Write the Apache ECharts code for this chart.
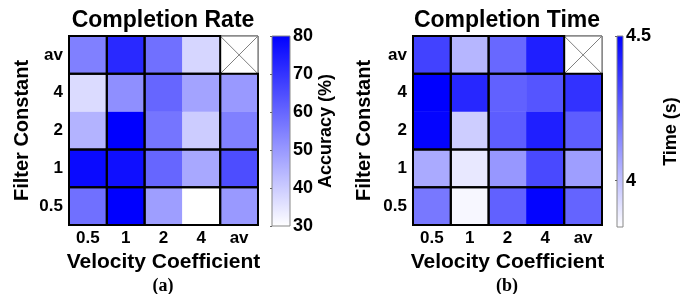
<!DOCTYPE html>
<html><head><meta charset="utf-8">
<script src="https://cdn.jsdelivr.net/npm/echarts@6/dist/echarts.min.js"></script>
<style>html,body{margin:0;padding:0;background:#fff}#c{width:681px;height:294px}</style>
</head><body><div id="c"></div>
<script>
// Categories
var xCats = ['0.5', '1', '2', '4', 'av'];           // Velocity Coefficient
var yCats = ['0.5', '1', '2', '4', 'av'];           // Filter Constant (bottom -> top)
// Completion Rate (Accuracy %), rows listed bottom->top, columns 0.5,1,2,4,av
var rateRow05 = [58, 80, 49, 30, 50];
var rateRow1  = [78, 77, 60, 47, 65];
var rateRow2  = [45, 80, 57, 40, 55];
var rateRow4  = [37, 52, 60, 48, 50];
var rateRowAv = [55, 72, 58, 38, null];
// Completion Time (s)
var timeRow05 = [4.19, 3.86, 4.25, 4.49, 4.24];
var timeRow1  = [4.06, 3.90, 4.11, 4.31, 4.09];
var timeRow2  = [4.49, 3.97, 4.26, 4.42, 4.26];
var timeRow4  = [4.50, 4.40, 4.25, 4.28, 4.37];
var timeRowAv = [4.33, 4.03, 4.23, 4.42, null];
// Colorbar ranges / ticks
var rateRange = [30, 80];
var timeRange = [3.84, 4.5];
var timeTicks = [4, 4.5];
// Block groupings (category index ranges)
var groups = [[0, 0], [1, 1], [2, 3], [4, 4]];

function toHeat(rows) {
  var out = [];
  rows.forEach(function (row, yi) {
    row.forEach(function (v, xi) { if (v !== null) out.push([xi, yi, v]); });
  });
  return out;
}
var rateData = toHeat([rateRow05, rateRow1, rateRow2, rateRow4, rateRowAv]);
var timeData = toHeat([timeRow05, timeRow1, timeRow2, timeRow4, timeRowAv]);

var blocks = [];
groups.forEach(function (gx) { groups.forEach(function (gy) {
  if (!(gx[0] === 4 && gy[0] === 4)) blocks.push([gx[0], gy[0], gx[1], gy[1]]);
}); });

function blockRender(params, api) {
  var x0 = api.value(0), y0 = api.value(1), x1 = api.value(2), y1 = api.value(3);
  var s = api.size([1, 1]);
  var a = api.coord([x0, y1]), b = api.coord([x1, y0]);
  var left = a[0] - s[0] / 2, top = a[1] - s[1] / 2;
  var right = b[0] + s[0] / 2, bottom = b[1] + s[1] / 2;
  return { type: 'rect', shape: { x: left, y: top, width: right - left, height: bottom - top },
    style: { fill: null, stroke: '#000', lineWidth: 2 } };
}
function crossRender(params, api) {
  var s = api.size([1, 1]);
  var c = api.coord([api.value(0), api.value(1)]);
  var l = c[0] - s[0] / 2, t = c[1] - s[1] / 2, r = c[0] + s[0] / 2, b = c[1] + s[1] / 2;
  return { type: 'group', children: [
    { type: 'rect', shape: { x: l, y: t, width: r - l, height: b - t }, style: { fill: '#fff', stroke: '#555', lineWidth: 1 } },
    { type: 'line', shape: { x1: l, y1: t, x2: r, y2: b }, style: { stroke: '#808080', lineWidth: 1 } },
    { type: 'line', shape: { x1: l, y1: b, x2: r, y2: t }, style: { stroke: '#808080', lineWidth: 1 } }
  ]};
}

var F = 'Liberation Sans, Arial, sans-serif';
var lbl = { fontFamily: F, fontWeight: 'bold', fontSize: 17, color: '#000' };
var grad = { type: 'linear', x: 0, y: 0, x2: 0, y2: 1,
  colorStops: [{ offset: 0, color: '#0000ff' }, { offset: 1, color: '#ffffff' }] };

function heatX(gi) {
  return { type: 'category', data: xCats, gridIndex: gi,
    name: 'Velocity Coefficient', nameLocation: 'middle', nameGap: 24,
    nameTextStyle: { fontFamily: F, fontWeight: 'bold', fontSize: 21, color: '#000' },
    axisLine: { show: false }, axisTick: { show: false },
    axisLabel: Object.assign({ margin: 5 }, lbl), splitLine: { show: false } };
}
function heatY(gi, gap) {
  return { type: 'category', data: yCats, gridIndex: gi,
    name: 'Filter Constant', nameLocation: 'middle', nameGap: gap, nameRotate: 90,
    nameTextStyle: { fontFamily: F, fontWeight: 'bold', fontSize: 20, color: '#000' },
    axisLine: { show: false }, axisTick: { show: false },
    axisLabel: Object.assign({ margin: 6 }, lbl), splitLine: { show: false } };
}

var option = {
  animation: false,
  backgroundColor: '#fff',
  title: [
    { text: 'Completion Rate', left: 163, top: 9, padding: 0, textAlign: 'center',
      textStyle: { fontFamily: F, fontWeight: 'bold', fontSize: 23, color: '#000' } },
    { text: 'Completion Time', left: 507, top: 9, padding: 0, textAlign: 'center',
      textStyle: { fontFamily: F, fontWeight: 'bold', fontSize: 23, color: '#000' } },
    { text: '(a)', left: 163, top: 277, padding: 0, textAlign: 'center',
      textStyle: { fontFamily: 'Liberation Serif, Times New Roman, serif', fontWeight: 'bold', fontSize: 18, color: '#000' } },
    { text: '(b)', left: 507, top: 277, padding: 0, textAlign: 'center',
      textStyle: { fontFamily: 'Liberation Serif, Times New Roman, serif', fontWeight: 'bold', fontSize: 18, color: '#000' } }
  ],
  grid: [
    { left: 69, top: 36, width: 189, height: 189, show: true, borderColor: '#888', borderWidth: 1, backgroundColor: '#fff' },
    { left: 272, top: 36, width: 18, height: 190, show: true, borderColor: '#888', borderWidth: 1, backgroundColor: grad },
    { left: 413, top: 36, width: 189, height: 189, show: true, borderColor: '#888', borderWidth: 1, backgroundColor: '#fff' },
    { left: 617, top: 36, width: 17, height: 191, show: true, borderColor: '#888', borderWidth: 1, backgroundColor: grad }
  ],
  xAxis: [
    heatX(0),
    { type: 'value', gridIndex: 1, show: false, min: 0, max: 1 },
    heatX(2),
    { type: 'value', gridIndex: 3, show: false, min: 0, max: 1 }
  ],
  yAxis: [
    heatY(0, 37),
    { type: 'value', gridIndex: 1, position: 'right', min: rateRange[0], max: rateRange[1], interval: 10,
      name: 'Accuracy (%)', nameLocation: 'middle', nameRotate: 90, nameGap: 25,
      nameTextStyle: { fontFamily: F, fontWeight: 'bold', fontSize: 18, color: '#000' },
      axisLine: { show: false }, axisTick: { show: true, inside: true, length: 2, lineStyle: { color: '#666' } },
      axisLabel: Object.assign({ margin: 3 }, lbl, { fontSize: 18 }), splitLine: { show: false } },
    heatY(2, 39),
    { type: 'value', gridIndex: 3, position: 'right', min: timeRange[0], max: timeRange[1],
      name: 'Time (s)', nameLocation: 'middle', nameRotate: 90, nameGap: 39,
      nameTextStyle: { fontFamily: F, fontWeight: 'bold', fontSize: 18, color: '#000' },
      axisLine: { show: false }, axisTick: { show: true, inside: true, length: 2, lineStyle: { color: '#666' }, customValues: timeTicks },
      axisLabel: Object.assign({ margin: 3, customValues: timeTicks }, lbl, { fontSize: 18 }), splitLine: { show: false } }
  ],
  visualMap: [
    { type: 'continuous', show: false, seriesIndex: 0, min: rateRange[0], max: rateRange[1], inRange: { color: ['#ffffff', '#0000ff'] } },
    { type: 'continuous', show: false, seriesIndex: 3, min: timeRange[0], max: timeRange[1], inRange: { color: ['#ffffff', '#0000ff'] } }
  ],
  series: [
    { type: 'heatmap', xAxisIndex: 0, yAxisIndex: 0, data: rateData, itemStyle: { borderWidth: 0 } },
    { type: 'custom', xAxisIndex: 0, yAxisIndex: 0, data: blocks, renderItem: blockRender, silent: true, z: 5 },
    { type: 'custom', xAxisIndex: 0, yAxisIndex: 0, data: [[4, 4]], renderItem: crossRender, silent: true, z: 4 },
    { type: 'heatmap', xAxisIndex: 2, yAxisIndex: 2, data: timeData, itemStyle: { borderWidth: 0 } },
    { type: 'custom', xAxisIndex: 2, yAxisIndex: 2, data: blocks, renderItem: blockRender, silent: true, z: 5 },
    { type: 'custom', xAxisIndex: 2, yAxisIndex: 2, data: [[4, 4]], renderItem: crossRender, silent: true, z: 4 }
  ]
};
var chart = echarts.init(document.getElementById('c'), null, { renderer: 'canvas' });
chart.setOption(option);
</script></body></html>
